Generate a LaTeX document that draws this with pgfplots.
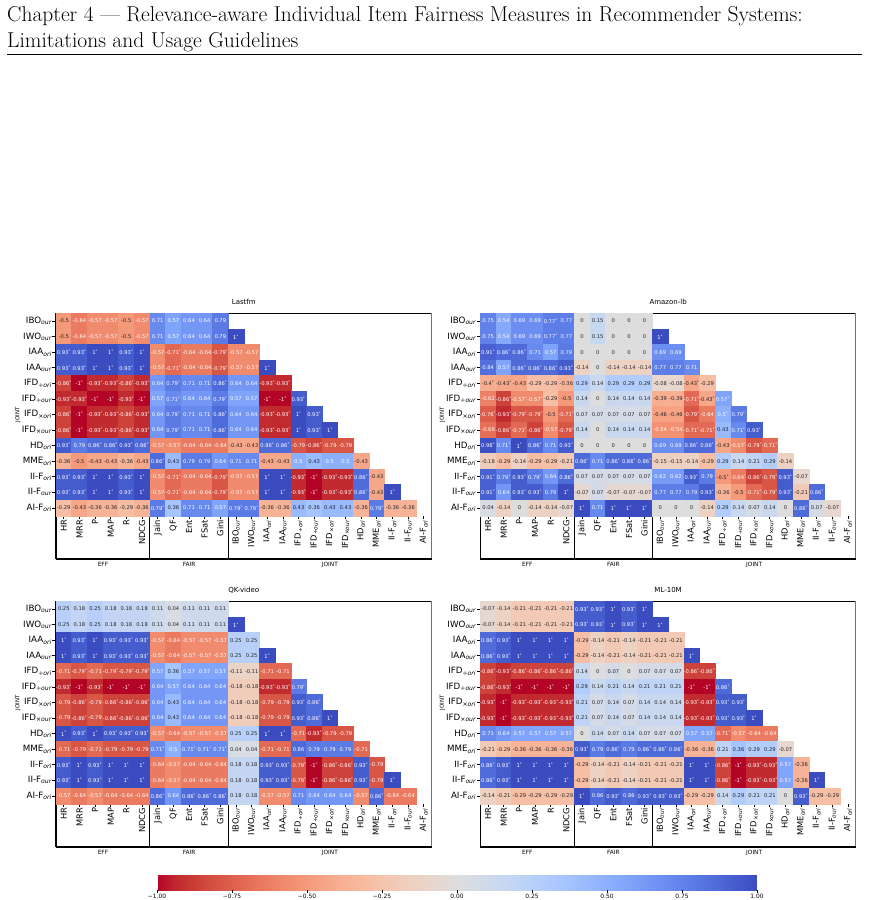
\documentclass[border=0pt]{standalone}
\usepackage{fontspec}
\usepackage{pgfplots}
\pgfplotsset{compat=1.18}
\newfontfamily\dejavu{DejaVu Sans}
\definecolor{annot}{RGB}{38,38,38}

% subscripts of the measure names
\newcommand\su[1]{\textsubscript{\itshape #1}}
\newcommand\sd[1]{\textsubscript{÷\itshape #1}}
\newcommand\sx[1]{\textsubscript{×\itshape #1}}

% cell annotation: value, a star when significant, light text on dark cells
\newcommand\celltext{%
  \ifdim\cellval pt>0.49pt \color{white}\else
    \ifdim\cellval pt<-0.52pt \color{white}\else\color{annot}\fi\fi
  \cellval\ifnum\cellstar=1 \textsuperscript{*}\fi}

\tikzset{grp/.style={font=\dejavu\fontsize{5.8}{6}\selectfont, anchor=north, inner sep=0pt, yshift=-3pt}}

\pgfplotsset{
  colormap={coolwarmr}{
    rgb255=(180,4,38) rgb255=(192,40,47) rgb255=(203,62,56)
    rgb255=(213,80,66) rgb255=(222,96,77) rgb255=(229,112,88)
    rgb255=(236,127,99) rgb255=(241,141,111) rgb255=(244,154,123)
    rgb255=(247,166,135) rgb255=(247,177,148) rgb255=(247,187,160)
    rgb255=(245,196,173) rgb255=(241,204,185) rgb255=(236,211,197)
    rgb255=(229,216,209) rgb255=(221,221,221) rgb255=(213,219,230)
    rgb255=(204,217,238) rgb255=(194,213,244) rgb255=(184,208,249)
    rgb255=(174,201,253) rgb255=(163,194,255) rgb255=(152,185,255)
    rgb255=(141,176,254) rgb255=(130,165,251) rgb255=(119,154,247)
    rgb255=(108,142,241) rgb255=(98,130,234) rgb255=(87,117,225)
    rgb255=(77,104,215) rgb255=(68,90,204) rgb255=(59,76,192)},
  hm/.style={
    anchor=north west, scale only axis, clip=false,
    x=15.65pt, y=15.57pt,
    xmin=-0.5, xmax=23.5, ymin=-12.5, ymax=0.5,
    axis line style={draw=none},
    xtick={0,...,23}, ytick={-12,...,0},
    xticklabels={HR,MRR,P,MAP,R,NDCG,Jain,QF,Ent,FSat,Gini,IBO\su{our},IWO\su{our},IAA\su{ori},IAA\su{our},IFD\sd{ori},IFD\sd{our},IFD\sx{ori},IFD\sx{our},HD\su{ori},MME\su{ori},II-F\su{ori},II-F\su{our},AI-F\su{ori}},
    yticklabels={AI-F\su{ori},II-F\su{our},II-F\su{ori},MME\su{ori},HD\su{ori},IFD\sx{our},IFD\sx{ori},IFD\sd{our},IFD\sd{ori},IAA\su{our},IAA\su{ori},IWO\su{our},IBO\su{our}},
    xtick pos=left, ytick pos=left, tick align=outside, major tick length=3.5pt,
    tick style={black, line width=0.8pt},
    yticklabel style={font=\dejavu\fontsize{8.7}{9}\selectfont, inner sep=0.5pt, anchor=east},
    xticklabel style={font=\dejavu\fontsize{8.3}{9}\selectfont, inner sep=0.5pt, rotate=90, anchor=east},
    point meta min=-1, point meta max=1, colormap name=coolwarmr,
    title style={font=\dejavu\fontsize{7}{8}\selectfont, at={(0.5,1)}, anchor=base, yshift=3pt},
    ylabel=JOINT,
    every axis y label/.style={at={(axis cs:-2.93,-6)}, rotate=90, anchor=center,
      font=\dejavu\fontsize{5.5}{6}\selectfont},
  },
  % coloured cells
  cellfill/.style={
    scatter, only marks, mark=square*, mark size=7.82pt, point meta=explicit,
    scatter/use mapped color={draw=mapped color, fill=mapped color},
  },
  % annotations on top of the cells (the marks themselves are empty text)
  celltext/.style={
    only marks, mark=text, text mark={}, point meta=explicit,
    visualization depends on={value \thisrow{v}\as\cellval},
    visualization depends on={value \thisrow{s}\as\cellstar},
    nodes near coords={\celltext}, nodes near coords align={center},
    every node near coord/.append style={font=\dejavu\fontsize{5.2}{6}\selectfont, inner sep=0pt},
  },
}

% one row of a correlation matrix: v = Kendall tau, s = 1 when significant
\newcommand\hrow[2]{%
  \addplot[cellfill] table[x expr=\coordindex, y expr=-#1, meta=v, row sep=\\]{v s\\#2\\};
  \addplot[celltext] table[x expr=\coordindex, y expr=-#1, meta=v, row sep=\\]{v s\\#2\\};}

% frame, block separators and block names
\newcommand\hmdecor{%
  \draw[line width=1.1pt] (axis cs:-0.5,0.5) -- (axis cs:23.5,0.5);
  \draw[line width=1.1pt, black!55] (axis cs:23.5,0.5) -- (axis cs:23.5,-15.28);
  \draw[line width=1.1pt] (axis cs:-0.5,-15.28) -- (axis cs:23.5,-15.28);
  \draw[line width=1.1pt] (axis cs:-0.5,0.5) -- (axis cs:-0.5,-15.28);
  \draw[line width=1.1pt] (axis cs:5.5,0.5) -- (axis cs:5.5,-15.28);
  \draw[line width=1.1pt] (axis cs:10.5,0.5) -- (axis cs:10.5,-15.28);
  \node[grp] at (axis cs:2.5,-15.28) {EFF};
  \node[grp] at (axis cs:8,-15.28) {FAIR};
  \node[grp] at (axis cs:17,-15.28) {JOINT};
}

\begin{document}
\begin{tikzpicture}
\useasboundingbox (0pt,0pt) rectangle (870pt,-900pt);

% running head
\node[anchor=base west, inner sep=0pt, font=\fontsize{21.5}{26}\selectfont] at (7pt,-21pt)
  {Chapter 4 — Relevance-aware Individual Item Fairness Measures in Recommender Systems:};
\node[anchor=base west, inner sep=0pt, font=\fontsize{21.5}{26}\selectfont] at (7pt,-47pt)
  {Limitations and Usage Guidelines};
\draw[line width=0.8pt] (7pt,-54.5pt) -- (862pt,-54.5pt);

% ---------------- Lastfm
\begin{axis}[hm, at={(56pt,-313.3pt)}, title={Lastfm}]
\hrow{0}{-0.5 0\\-0.64 0\\-0.57 0\\-0.57 0\\-0.5 0\\-0.57 0\\0.71 0\\0.57 0\\0.64 0\\0.64 0\\0.79 0}
\hrow{1}{-0.5 0\\-0.64 0\\-0.57 0\\-0.57 0\\-0.5 0\\-0.57 0\\0.71 0\\0.57 0\\0.64 0\\0.64 0\\0.79 0\\1 1}
\hrow{2}{0.93 1\\0.93 1\\1 1\\1 1\\0.93 1\\1 1\\-0.57 0\\-0.71 1\\-0.64 0\\-0.64 0\\-0.79 1\\-0.57 0\\-0.57 0}
\hrow{3}{0.93 1\\0.93 1\\1 1\\1 1\\0.93 1\\1 1\\-0.57 0\\-0.71 1\\-0.64 0\\-0.64 0\\-0.79 1\\-0.57 0\\-0.57 0\\1 1}
\hrow{4}{-0.86 1\\-1 1\\-0.93 1\\-0.93 1\\-0.86 1\\-0.93 1\\0.64 0\\0.79 1\\0.71 0\\0.71 0\\0.86 1\\0.64 0\\0.64 0\\-0.93 1\\-0.93 1}
\hrow{5}{-0.93 1\\-0.93 1\\-1 1\\-1 1\\-0.93 1\\-1 1\\0.57 0\\0.71 1\\0.64 0\\0.64 0\\0.79 1\\0.57 0\\0.57 0\\-1 1\\-1 1\\0.93 1}
\hrow{6}{-0.86 1\\-1 1\\-0.93 1\\-0.93 1\\-0.86 1\\-0.93 1\\0.64 0\\0.79 1\\0.71 0\\0.71 0\\0.86 1\\0.64 0\\0.64 0\\-0.93 1\\-0.93 1\\1 1\\0.93 1}
\hrow{7}{-0.86 1\\-1 1\\-0.93 1\\-0.93 1\\-0.86 1\\-0.93 1\\0.64 0\\0.79 1\\0.71 0\\0.71 0\\0.86 1\\0.64 0\\0.64 0\\-0.93 1\\-0.93 1\\1 1\\0.93 1\\1 1}
\hrow{8}{0.93 1\\0.79 0\\0.86 1\\0.86 1\\0.93 1\\0.86 1\\-0.57 0\\-0.57 0\\-0.64 0\\-0.64 0\\-0.64 0\\-0.43 0\\-0.43 0\\0.86 1\\0.86 1\\-0.79 0\\-0.86 1\\-0.79 0\\-0.79 0}
\hrow{9}{-0.36 0\\-0.5 0\\-0.43 0\\-0.43 0\\-0.36 0\\-0.43 0\\0.86 1\\0.43 0\\0.79 0\\0.79 0\\0.64 0\\0.71 0\\0.71 0\\-0.43 0\\-0.43 0\\0.5 0\\0.43 0\\0.5 0\\0.5 0\\-0.43 0}
\hrow{10}{0.93 1\\0.93 1\\1 1\\1 1\\0.93 1\\1 1\\-0.57 0\\-0.71 1\\-0.64 0\\-0.64 0\\-0.79 1\\-0.57 0\\-0.57 0\\1 1\\1 1\\-0.93 1\\-1 1\\-0.93 1\\-0.93 1\\0.86 1\\-0.43 0}
\hrow{11}{0.93 1\\0.93 1\\1 1\\1 1\\0.93 1\\1 1\\-0.57 0\\-0.71 1\\-0.64 0\\-0.64 0\\-0.79 1\\-0.57 0\\-0.57 0\\1 1\\1 1\\-0.93 1\\-1 1\\-0.93 1\\-0.93 1\\0.86 1\\-0.43 0\\1 1}
\hrow{12}{-0.29 0\\-0.43 0\\-0.36 0\\-0.36 0\\-0.29 0\\-0.36 0\\0.79 1\\0.36 0\\0.71 0\\0.71 0\\0.57 0\\0.79 1\\0.79 1\\-0.36 0\\-0.36 0\\0.43 0\\0.36 0\\0.43 0\\0.43 0\\-0.36 0\\0.79 1\\-0.36 0\\-0.36 0}
\hmdecor
\end{axis}

% ---------------- Amazon-lb
\begin{axis}[hm, at={(480.3pt,-313.3pt)}, title={Amazon-lb}]
\hrow{0}{0.75 0\\0.54 0\\0.69 0\\0.69 0\\0.77 1\\0.77 0\\0 0\\0.15 0\\0 0\\0 0\\0 0}
\hrow{1}{0.75 0\\0.54 0\\0.69 0\\0.69 0\\0.77 1\\0.77 0\\0 0\\0.15 0\\0 0\\0 0\\0 0\\1 1}
\hrow{2}{0.91 1\\0.86 1\\0.86 1\\0.71 0\\0.57 0\\0.79 0\\0 0\\0 0\\0 0\\0 0\\0 0\\0.69 0\\0.69 0}
\hrow{3}{0.84 0\\0.57 0\\0.86 1\\0.86 1\\0.86 1\\0.93 1\\-0.14 0\\0 0\\-0.14 0\\-0.14 0\\-0.14 0\\0.77 0\\0.77 0\\0.71 0}
\hrow{4}{-0.4 1\\-0.43 1\\-0.43 0\\-0.29 0\\-0.29 0\\-0.36 0\\0.29 0\\0.14 0\\0.29 0\\0.29 0\\0.29 0\\-0.08 0\\-0.08 0\\-0.43 1\\-0.29 0}
\hrow{5}{-0.62 0\\-0.86 1\\-0.57 1\\-0.57 1\\-0.29 0\\-0.5 0\\0.14 0\\0 0\\0.14 0\\0.14 0\\0.14 0\\-0.39 0\\-0.39 0\\-0.71 1\\-0.43 1\\0.57 1}
\hrow{6}{-0.76 1\\-0.93 1\\-0.79 1\\-0.79 1\\-0.5 0\\-0.71 1\\0.07 0\\0.07 0\\0.07 0\\0.07 0\\0.07 0\\-0.46 0\\-0.46 0\\-0.79 1\\-0.64 0\\0.5 1\\0.79 1}
\hrow{7}{-0.69 0\\-0.86 1\\-0.71 1\\-0.86 1\\-0.57 0\\-0.79 1\\0.14 0\\0 0\\0.14 0\\0.14 0\\0.14 0\\-0.54 0\\-0.54 0\\-0.71 1\\-0.71 1\\0.43 0\\0.71 1\\0.93 1}
\hrow{8}{0.98 1\\0.71 1\\1 1\\0.86 1\\0.71 0\\0.93 1\\0 0\\0 0\\0 0\\0 0\\0 0\\0.69 0\\0.69 0\\0.86 1\\0.86 1\\-0.43 0\\-0.57 1\\-0.79 1\\-0.71 1}
\hrow{9}{-0.18 0\\-0.29 0\\-0.14 0\\-0.29 0\\-0.29 0\\-0.21 0\\0.86 1\\0.71 0\\0.86 1\\0.86 1\\0.86 1\\-0.15 0\\-0.15 0\\-0.14 0\\-0.29 0\\0.29 0\\0.14 0\\0.21 0\\0.29 0\\-0.14 0}
\hrow{10}{0.91 1\\0.79 1\\0.93 1\\0.79 1\\0.64 0\\0.86 1\\0.07 0\\0.07 0\\0.07 0\\0.07 0\\0.07 0\\0.62 0\\0.62 0\\0.93 1\\0.79 0\\-0.5 1\\-0.64 1\\-0.86 1\\-0.79 1\\0.93 1\\-0.07 0}
\hrow{11}{0.91 1\\0.64 0\\0.93 1\\0.93 1\\0.79 0\\1 1\\-0.07 0\\0.07 0\\-0.07 0\\-0.07 0\\-0.07 0\\0.77 0\\0.77 0\\0.79 0\\0.93 1\\-0.36 0\\-0.5 0\\-0.71 1\\-0.79 1\\0.93 1\\-0.21 0\\0.86 1}
\hrow{12}{0.04 0\\-0.14 0\\0 0\\-0.14 0\\-0.14 0\\-0.07 0\\1 1\\0.71 0\\1 1\\1 1\\1 1\\0 0\\0 0\\0 0\\-0.14 0\\0.29 0\\0.14 0\\0.07 0\\0.14 0\\0 0\\0.86 1\\0.07 0\\-0.07 0}
\hmdecor
\end{axis}

% ---------------- QK-video
\begin{axis}[hm, at={(56pt,-601.3pt)}, title={QK-video}]
\hrow{0}{0.25 0\\0.18 0\\0.25 0\\0.18 0\\0.18 0\\0.18 0\\0.11 0\\0.04 0\\0.11 0\\0.11 0\\0.11 0}
\hrow{1}{0.25 0\\0.18 0\\0.25 0\\0.18 0\\0.18 0\\0.18 0\\0.11 0\\0.04 0\\0.11 0\\0.11 0\\0.11 0\\1 1}
\hrow{2}{1 1\\0.93 1\\1 1\\0.93 1\\0.93 1\\0.93 1\\-0.57 0\\-0.64 0\\-0.57 0\\-0.57 0\\-0.57 0\\0.25 0\\0.25 0}
\hrow{3}{1 1\\0.93 1\\1 1\\0.93 1\\0.93 1\\0.93 1\\-0.57 0\\-0.64 0\\-0.57 0\\-0.57 0\\-0.57 0\\0.25 0\\0.25 0\\1 1}
\hrow{4}{-0.71 0\\-0.79 1\\-0.71 0\\-0.79 1\\-0.79 1\\-0.79 1\\0.57 0\\0.36 0\\0.57 0\\0.57 0\\0.57 0\\-0.11 0\\-0.11 0\\-0.71 0\\-0.71 0}
\hrow{5}{-0.93 1\\-1 1\\-0.93 1\\-1 1\\-1 1\\-1 1\\0.64 0\\0.57 0\\0.64 0\\0.64 0\\0.64 0\\-0.18 0\\-0.18 0\\-0.93 1\\-0.93 1\\0.79 1}
\hrow{6}{-0.79 0\\-0.86 1\\-0.79 0\\-0.86 1\\-0.86 1\\-0.86 1\\0.64 0\\0.43 0\\0.64 0\\0.64 0\\0.64 0\\-0.18 0\\-0.18 0\\-0.79 0\\-0.79 0\\0.93 1\\0.86 1}
\hrow{7}{-0.79 0\\-0.86 1\\-0.79 0\\-0.86 1\\-0.86 1\\-0.86 1\\0.64 0\\0.43 0\\0.64 0\\0.64 0\\0.64 0\\-0.18 0\\-0.18 0\\-0.79 0\\-0.79 0\\0.93 1\\0.86 1\\1 1}
\hrow{8}{1 1\\0.93 1\\1 1\\0.93 1\\0.93 1\\0.93 1\\-0.57 0\\-0.64 0\\-0.57 0\\-0.57 0\\-0.57 0\\0.25 0\\0.25 0\\1 1\\1 1\\-0.71 0\\-0.93 1\\-0.79 0\\-0.79 0}
\hrow{9}{-0.71 0\\-0.79 0\\-0.71 0\\-0.79 0\\-0.79 0\\-0.79 0\\0.71 1\\0.5 0\\0.71 1\\0.71 1\\0.71 1\\0.04 0\\0.04 0\\-0.71 0\\-0.71 0\\0.86 0\\0.79 0\\0.79 0\\0.79 0\\-0.71 0}
\hrow{10}{0.93 1\\1 1\\0.93 1\\1 1\\1 1\\1 1\\-0.64 0\\-0.57 0\\-0.64 0\\-0.64 0\\-0.64 0\\0.18 0\\0.18 0\\0.93 1\\0.93 1\\-0.79 1\\-1 1\\-0.86 1\\-0.86 1\\0.93 1\\-0.79 0}
\hrow{11}{0.93 1\\1 1\\0.93 1\\1 1\\1 1\\1 1\\-0.64 0\\-0.57 0\\-0.64 0\\-0.64 0\\-0.64 0\\0.18 0\\0.18 0\\0.93 1\\0.93 1\\-0.79 1\\-1 1\\-0.86 1\\-0.86 1\\0.93 1\\-0.79 0\\1 1}
\hrow{12}{-0.57 0\\-0.64 0\\-0.57 0\\-0.64 0\\-0.64 0\\-0.64 0\\0.86 1\\0.64 0\\0.86 1\\0.86 1\\0.86 1\\0.18 0\\0.18 0\\-0.57 0\\-0.57 0\\0.71 0\\0.64 0\\0.64 0\\0.64 0\\-0.57 0\\0.86 1\\-0.64 0\\-0.64 0}
\hmdecor
\end{axis}

% ---------------- ML-10M
\begin{axis}[hm, at={(480.3pt,-601.3pt)}, title={ML-10M}]
\hrow{0}{-0.07 0\\-0.14 0\\-0.21 0\\-0.21 0\\-0.21 0\\-0.21 0\\0.93 1\\0.93 1\\1 1\\0.93 1\\1 1}
\hrow{1}{-0.07 0\\-0.14 0\\-0.21 0\\-0.21 0\\-0.21 0\\-0.21 0\\0.93 1\\0.93 1\\1 1\\0.93 1\\1 1\\1 1}
\hrow{2}{0.86 1\\0.93 1\\1 1\\1 1\\1 1\\1 1\\-0.29 0\\-0.14 0\\-0.21 0\\-0.14 0\\-0.21 0\\-0.21 0\\-0.21 0}
\hrow{3}{0.86 1\\0.93 1\\1 1\\1 1\\1 1\\1 1\\-0.29 0\\-0.14 0\\-0.21 0\\-0.14 0\\-0.21 0\\-0.21 0\\-0.21 0\\1 1}
\hrow{4}{-0.86 1\\-0.93 1\\-0.86 1\\-0.86 1\\-0.86 1\\-0.86 1\\0.14 0\\0 0\\0.07 0\\0 0\\0.07 0\\0.07 0\\0.07 0\\-0.86 1\\-0.86 1}
\hrow{5}{-0.86 1\\-0.93 1\\-1 1\\-1 1\\-1 1\\-1 1\\0.29 0\\0.14 0\\0.21 0\\0.14 0\\0.21 0\\0.21 0\\0.21 0\\-1 1\\-1 1\\0.86 1}
\hrow{6}{-0.93 1\\-1 1\\-0.93 1\\-0.93 1\\-0.93 1\\-0.93 1\\0.21 0\\0.07 0\\0.14 0\\0.07 0\\0.14 0\\0.14 0\\0.14 0\\-0.93 1\\-0.93 1\\0.93 1\\0.93 1}
\hrow{7}{-0.93 1\\-1 1\\-0.93 1\\-0.93 1\\-0.93 1\\-0.93 1\\0.21 0\\0.07 0\\0.14 0\\0.07 0\\0.14 0\\0.14 0\\0.14 0\\-0.93 1\\-0.93 1\\0.93 1\\0.93 1\\1 1}
\hrow{8}{0.71 0\\0.64 0\\0.57 0\\0.57 0\\0.57 0\\0.57 0\\0 0\\0.14 0\\0.07 0\\0.14 0\\0.07 0\\0.07 0\\0.07 0\\0.57 0\\0.57 0\\-0.71 1\\-0.57 0\\-0.64 0\\-0.64 0}
\hrow{9}{-0.21 0\\-0.29 0\\-0.36 0\\-0.36 0\\-0.36 0\\-0.36 0\\0.93 1\\0.79 0\\0.86 1\\0.79 0\\0.86 1\\0.86 1\\0.86 1\\-0.36 0\\-0.36 0\\0.21 0\\0.36 0\\0.29 0\\0.29 0\\-0.07 0}
\hrow{10}{0.86 1\\0.93 1\\1 1\\1 1\\1 1\\1 1\\-0.29 0\\-0.14 0\\-0.21 0\\-0.14 0\\-0.21 0\\-0.21 0\\-0.21 0\\1 1\\1 1\\-0.86 1\\-1 1\\-0.93 1\\-0.93 1\\0.57 0\\-0.36 0}
\hrow{11}{0.86 1\\0.93 1\\1 1\\1 1\\1 1\\1 1\\-0.29 0\\-0.14 0\\-0.21 0\\-0.14 0\\-0.21 0\\-0.21 0\\-0.21 0\\1 1\\1 1\\-0.86 1\\-1 1\\-0.93 1\\-0.93 1\\0.57 0\\-0.36 0\\1 1}
\hrow{12}{-0.14 0\\-0.21 0\\-0.29 0\\-0.29 0\\-0.29 0\\-0.29 0\\1 1\\0.86 0\\0.93 1\\0.86 0\\0.93 1\\0.93 1\\0.93 1\\-0.29 0\\-0.29 0\\0.14 0\\0.29 0\\0.21 0\\0.21 0\\0 0\\0.93 1\\-0.29 0\\-0.29 0}
\hmdecor
\end{axis}

% ---------------- shared colour scale
\begin{axis}[at={(157pt,-871pt)}, anchor=north west, scale only axis,
  width=600pt, height=19pt, hide axis, xmin=0, xmax=1, ymin=0, ymax=1,
  point meta min=-1, point meta max=1, colormap name=coolwarmr,
  colorbar horizontal, colorbar shift/.style={},
  colorbar style={at={(parent axis.north west)}, anchor=north west,
    scale only axis, width=600pt, height=19pt,
    xtick={-1,-0.75,-0.5,-0.25,0,0.25,0.5,0.75,1},
    xticklabels={−1.00,−0.75,−0.50,−0.25,0.00,0.25,0.50,0.75,1.00},
    xticklabel style={font=\dejavu\fontsize{5.9}{6}\selectfont, inner sep=1pt},
    axis line style={draw=none}, xtick pos=left, tick align=outside,
    major tick length=3pt, tick style={black, line width=0.6pt}, ytick=\empty}]
\end{axis}
\end{tikzpicture}
\end{document}
